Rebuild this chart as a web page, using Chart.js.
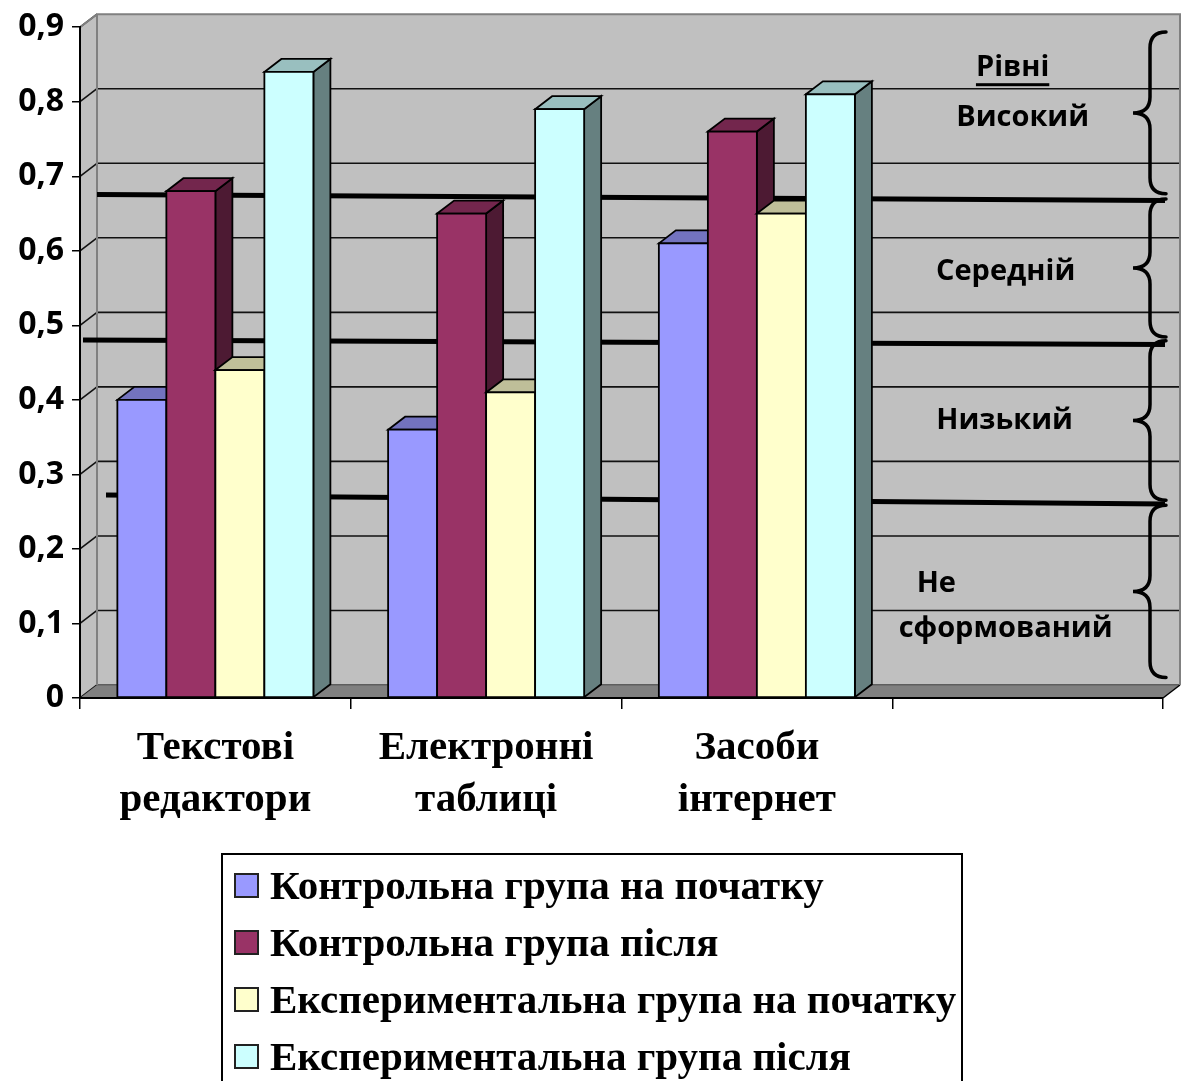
<!DOCTYPE html>
<html>
<head>
<meta charset="utf-8">
<script src="https://cdn.jsdelivr.net/npm/chart.js@4.4.1/dist/chart.umd.min.js"></script>
<style>
  html, body { margin: 0; padding: 0; background: #fff; }
  #wrap { width: 1181px; height: 1081px; }
</style>
</head>
<body>
<div id="wrap"><canvas id="c" width="1181" height="1081"></canvas></div>
<script>
// ---- data ----
const categories = [['Текстові', 'редактори'], ['Електронні', 'таблиці'], ['Засоби', 'інтернет'], ''];
const seriesNames = [
  'Контрольна група на початку',
  'Контрольна група після',
  'Експериментальна група на початку',
  'Експериментальна група після'
];
const controlBefore    = [0.40, 0.36, 0.61, null];
const controlAfter     = [0.68, 0.65, 0.76, null];
const experimentBefore = [0.44, 0.41, 0.65, null];
const experimentAfter  = [0.84, 0.79, 0.81, null];
const yTickLabels = ['0', '0,1', '0,2', '0,3', '0,4', '0,5', '0,6', '0,7', '0,8', '0,9'];

const levelTitle = 'Рівні';
const levelNames = [['Високий'], ['Середній'], ['Низький'], ['Не', 'сформований']];
// boundaries between levels: value at the left end and at the right end of each line
const levelLineFrom = [0.658, 0.463, 0.255];
const levelLineTo   = [0.650, 0.457, 0.243];
// vertical extent of the brace for each level
const braceTop    = [0.876, 0.652, 0.462, 0.241];
const braceBottom = [0.659, 0.467, 0.248, 0.010];

// ---- style ----
const faceColors = ['#9999FF', '#993366', '#FFFFCC', '#CCFFFF'];
const topColors  = ['#7373BF', '#73264D', '#BFBF99', '#99BFBF'];
const sideColors = ['#4D4D80', '#4D1A33', '#808066', '#668080'];
const DX = 17, DY = 13;           // depth offset of the 3D box
const SANS = '"Open Sans", "Noto Sans", sans-serif';
const SERIF = '"Liberation Serif", "DejaVu Serif", serif';

function poly(ctx, pts, fill, stroke, lw) {
  ctx.beginPath();
  ctx.moveTo(pts[0][0], pts[0][1]);
  for (let i = 1; i < pts.length; i++) ctx.lineTo(pts[i][0], pts[i][1]);
  ctx.closePath();
  if (fill) { ctx.fillStyle = fill; ctx.fill(); }
  if (stroke) { ctx.strokeStyle = stroke; ctx.lineWidth = lw || 1; ctx.stroke(); }
}
function line(ctx, x0, y0, x1, y1, color, lw) {
  ctx.beginPath();
  ctx.moveTo(x0, y0); ctx.lineTo(x1, y1);
  ctx.strokeStyle = color; ctx.lineWidth = lw; ctx.stroke();
}

// back wall, side wall and floor, plus the level boundary lines on the wall
const wallPlugin = {
  id: 'wall',
  beforeDraw(chart) {
    const ctx = chart.ctx;
    const { left, right, top, bottom } = chart.chartArea;
    const ys = chart.scales.y;
    ctx.save();
    ctx.fillStyle = '#fff';
    ctx.fillRect(0, 0, chart.width, chart.height);
    // back wall
    ctx.fillStyle = '#C0C0C0';
    ctx.fillRect(left + DX, top - DY, right - left, bottom - top);
    // side wall
    poly(ctx, [[left, bottom], [left, top], [left + DX, top - DY], [left + DX, bottom - DY]], '#C0C0C0');
    // grid lines on the back wall and slanted ones on the side wall
    for (let v = 0; v <= 9; v++) {
      const py = ys.getPixelForValue(v / 10);
      if (v < 9) line(ctx, left + DX, py - DY, right + DX, py - DY, '#111', 1.6);
      line(ctx, left, py, left + DX, py - DY, '#111', 1.6);
    }
    // floor
    poly(ctx, [[left, bottom], [left + DX, bottom - DY], [right + DX, bottom - DY], [right, bottom]], '#808080');
    line(ctx, left + DX, bottom - DY, right + DX, bottom - DY, '#6a6a6a', 1.5);
    line(ctx, right, bottom, right + DX, bottom - DY, '#000', 1.5);
    // wall edges
    ctx.strokeStyle = '#808080'; ctx.lineWidth = 2;
    ctx.beginPath();
    ctx.moveTo(left + DX, bottom - DY);
    ctx.lineTo(left + DX, top - DY);
    ctx.lineTo(right + DX, top - DY);
    ctx.lineTo(right + DX, bottom - DY);
    ctx.moveTo(left, top); ctx.lineTo(left + DX, top - DY);
    ctx.stroke();
    ctx.restore();
  },
  beforeDatasetsDraw(chart) {
    const ctx = chart.ctx;
    const { left, right } = chart.chartArea;
    const ys = chart.scales.y;
    const starts = [left + DX, left + 3, left + 26];
    ctx.save();
    ctx.lineCap = 'butt';
    levelLineFrom.forEach((v0, i) => {
      const v1 = levelLineTo[i];
      line(ctx, starts[i], ys.getPixelForValue(v0) - DY, right + 2, ys.getPixelForValue(v1) - DY, '#000', 5);
    });
    ctx.restore();
  }
};

// 3D boxes: front face from the bar element, plus top and side faces
const boxPlugin = {
  id: 'boxes',
  afterDatasetsDraw(chart) {
    const ctx = chart.ctx;
    const n = chart.data.labels.length;
    ctx.save();
    ctx.lineJoin = 'miter';
    for (let j = 0; j < n; j++) {
      chart.data.datasets.forEach((ds, i) => {
        if (ds.data[j] == null) return;
        const el = chart.getDatasetMeta(i).data[j];
        const { x, y, base, width } = el.getProps(['x', 'y', 'base', 'width'], true);
        const L = x - width / 2, R = x + width / 2;
        poly(ctx, [[R, y], [R + DX, y - DY], [R + DX, base - DY], [R, base]], sideColors[i], '#000', 1.8);
        poly(ctx, [[L, y], [L + DX, y - DY], [R + DX, y - DY], [R, y]], topColors[i], '#000', 1.8);
        poly(ctx, [[L, y], [R, y], [R, base], [L, base]], faceColors[i], '#000', 1.8);
      });
    }
    ctx.restore();
  }
};

function brace(ctx, xe, xs, xt, y0, y1) {
  const ym = (y0 + y1) / 2, r = 16;
  ctx.beginPath();
  ctx.moveTo(xe, y0);
  ctx.quadraticCurveTo(xs, y0, xs, y0 + r);
  ctx.lineTo(xs, ym - r);
  ctx.quadraticCurveTo(xs, ym, xt, ym);
  ctx.quadraticCurveTo(xs, ym, xs, ym + r);
  ctx.lineTo(xs, y1 - r);
  ctx.quadraticCurveTo(xs, y1, xe, y1);
  ctx.stroke();
}

// level braces, level names and the legend box
const notesPlugin = {
  id: 'notes',
  afterDraw(chart) {
    const ctx = chart.ctx;
    const { right, top } = chart.chartArea;
    const ys = chart.scales.y, xs = chart.scales.x;
    const cx = xs.getPixelForValue(3);
    ctx.save();
    // braces
    ctx.strokeStyle = '#000'; ctx.lineWidth = 3.5; ctx.lineCap = 'round';
    const mids = [];
    braceTop.forEach((t, i) => {
      const y0 = ys.getPixelForValue(t) - DY, y1 = ys.getPixelForValue(braceBottom[i]) - DY;
      brace(ctx, right + 3, right - 13, right - 30, y0, y1);
      mids.push((y0 + y1) / 2);
    });
    // level names
    ctx.fillStyle = '#000';
    ctx.font = 'bold 29px ' + SANS;
    ctx.textBaseline = 'middle';
    ctx.textAlign = 'center';
    const tx = cx - 15, ty = top + 41;
    ctx.fillText(levelTitle, tx, ty);
    const tw = ctx.measureText(levelTitle).width;
    ctx.fillRect(tx - tw / 2, ty + 15, tw, 3);
    const dxs = [-5, -22, -23];
    const dys = [5, 4, 0];
    for (let i = 0; i < 3; i++) ctx.fillText(levelNames[i][0], cx + dxs[i], mids[i] + dys[i]);
    ctx.textAlign = 'left';
    ctx.fillText(levelNames[3][0], cx - 111, mids[3] - 8);
    ctx.textAlign = 'center';
    ctx.fillText(levelNames[3][1], cx - 22, mids[3] + 37);

    // legend
    const lx = 222, ly = 854, lw = 740;
    ctx.strokeStyle = '#000'; ctx.lineWidth = 2;
    ctx.strokeRect(lx, ly, lw, chart.height - ly + 10);
    ctx.font = 'bold 41px ' + SERIF;
    ctx.textAlign = 'left';
    ctx.textBaseline = 'middle';
    chart.data.datasets.forEach((ds, i) => {
      const ry = 886 + i * 57;
      ctx.fillStyle = ds.backgroundColor;
      ctx.fillRect(lx + 13, ry - 12, 23, 23);
      ctx.strokeStyle = '#222'; ctx.lineWidth = 2;
      ctx.strokeRect(lx + 13, ry - 12, 23, 23);
      ctx.fillStyle = '#000';
      ctx.fillText(ds.label, lx + 48, ry + 2);
    });
    ctx.restore();
  }
};

const seriesValues = [controlBefore, controlAfter, experimentBefore, experimentAfter];

new Chart(document.getElementById('c').getContext('2d'), {
  type: 'bar',
  data: {
    labels: categories,
    datasets: seriesValues.map((vals, i) => ({
      label: seriesNames[i],
      data: vals,
      backgroundColor: faceColors[i],
      borderColor: '#000',
      borderWidth: 1.8,
      barPercentage: 1,
      categoryPercentage: 0.724
    }))
  },
  options: {
    responsive: false,
    animation: false,
    layout: { padding: { top: 25, right: 18, bottom: 253, left: 0 } },
    plugins: { legend: { display: false }, tooltip: { enabled: false } },
    scales: {
      x: {
        grid: { display: true, offset: true, drawOnChartArea: false, tickLength: 11, color: '#000', lineWidth: 1.5 },
        border: { color: '#000', width: 2 },
        ticks: {
          color: '#000', padding: 13, maxRotation: 0, autoSkip: false,
          font: { family: SERIF, weight: 'bold', size: 41, lineHeight: 1.27 }
        },
        afterFit(s) { s.height = 130; }
      },
      y: {
        min: 0, max: 0.9,
        grid: { drawOnChartArea: false, tickLength: 8, color: '#000', lineWidth: 1.5 },
        border: { color: '#000', width: 2 },
        ticks: {
          stepSize: 0.1, color: '#000', padding: 8,
          font: { family: SANS, weight: 'bold', size: 32 },
          callback: v => yTickLabels[Math.round(v * 10)]
        },
        afterFit(s) { s.width = 80; }
      }
    }
  },
  plugins: [wallPlugin, boxPlugin, notesPlugin]
});
</script>
</body>
</html>
